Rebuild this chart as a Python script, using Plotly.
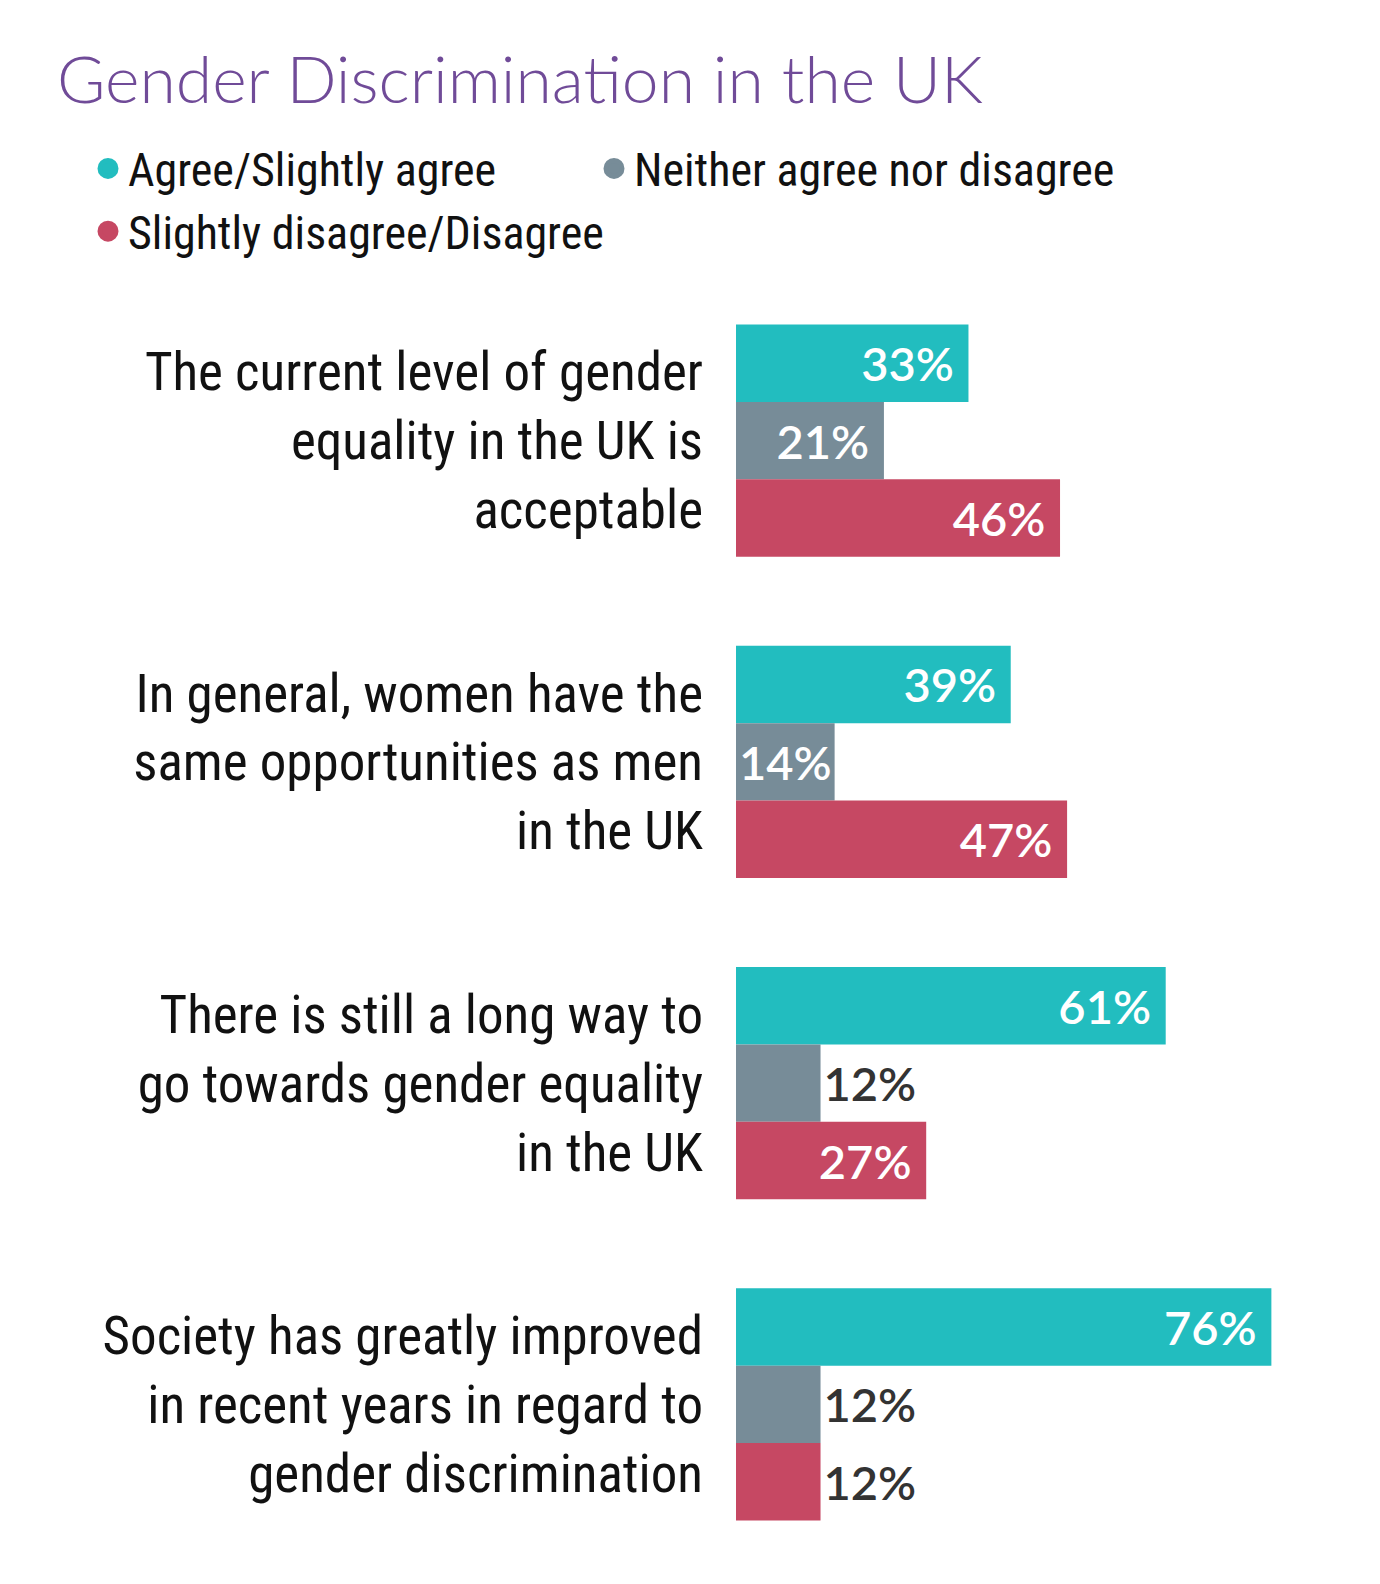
import plotly.graph_objects as go

categories = [
    "The current level of gender<br>equality in the UK is<br>acceptable",
    "In general, women have the<br>same opportunities as men<br>in the UK",
    "There is still a long way to<br>go towards gender equality<br>in the UK",
    "Society has greatly improved<br>in recent years in regard to<br>gender discrimination",
]
series_names = ["Agree/Slightly agree", "Neither agree nor disagree", "Slightly disagree/Disagree"]
agree = [33, 39, 61, 76]
neither = [21, 14, 12, 12]
disagree = [46, 47, 27, 12]
colors = ["#22BDBF", "#778C98", "#C64863"]
legend_ids = ["legend", "legend2", "legend"]

COND = "Roboto Condensed, Liberation Sans Narrow, DejaVu Sans Condensed, Arial Narrow, sans-serif"
NUM = "Lato, Open Sans, sans-serif"


def label(v):
    # inside labels get a little right padding, like the original
    return f"{v}%\u00a0" if v >= 20 else f"{v}%"


fig = go.Figure()
for name, vals, col in zip(series_names, [agree, neither, disagree], colors):
    fig.add_trace(go.Bar(
        y=categories, x=vals, orientation="h", name=name,
        marker=dict(color=col, line=dict(width=0)),
        text=[label(v) for v in vals],
        textposition=["inside" if v >= 14 else "outside" for v in vals],
        insidetextanchor="end",
        textangle=0,
        insidetextfont=dict(color="white", size=47, family=NUM, weight=600),
        outsidetextfont=dict(color="#333333", size=47, family=NUM, weight=600),
        textfont=dict(size=47, family=NUM, weight=600),
        cliponaxis=False,
        showlegend=False,
        hoverinfo="skip",
    ))
# legend entries with circular markers
for i, (name, col, lg) in enumerate(zip(series_names, colors, legend_ids)):
    fig.add_trace(go.Scatter(
        x=[None], y=[None], mode="markers", name=name,
        legend=lg,
        marker=dict(color=col, size=16, symbol="circle", line=dict(color=col, width=5)),
        showlegend=True,
    ))

legend_common = dict(
    orientation="h", xref="container", yref="container",
    xanchor="left", y=1 - 124 / 1584, yanchor="top",
    entrywidth=505, entrywidthmode="pixels",
    font=dict(family=COND, size=46, color="#111111"),
    itemsizing="trace", bgcolor="rgba(0,0,0,0)",
)

fig.update_layout(
    width=1380, height=1584,
    paper_bgcolor="white", plot_bgcolor="white",
    barmode="group", bargap=0.277, bargroupgap=0,
    margin=dict(l=728, r=18, t=272, b=27),
    title=dict(
        text="Gender Discrimination in the UK",
        font=dict(family="Lato, Open Sans, sans-serif", size=66, color="#704B98", weight=300),
        x=49 / 1380, xref="container", xanchor="left",
        y=1 - 72 / 1584, yref="container", yanchor="middle",
    ),
    legend=dict(x=80 / 1380, **legend_common),
    legend2=dict(x=586 / 1380, **legend_common),
    xaxis=dict(range=[0, 90], visible=False, fixedrange=True),
    yaxis=dict(
        autorange="reversed", showgrid=False, zeroline=False, showline=False,
        ticks="", ticklabelstandoff=32,
        tickfont=dict(family=COND, size=53, color="#111111"),
    ),
)

fig.write_html("out.html")
